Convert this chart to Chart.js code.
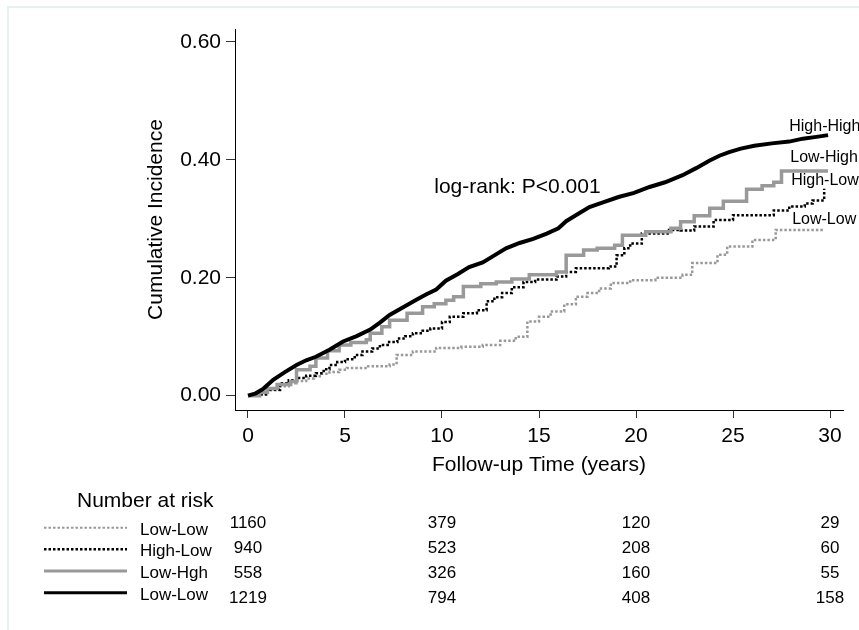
<!DOCTYPE html>
<html>
<head>
<meta charset="utf-8">
<title>Cumulative incidence by group</title>
<script src="https://cdn.jsdelivr.net/npm/chart.js@4.4.1/dist/chart.umd.min.js"></script>
<style>
    html, body { margin: 0; padding: 0; background: #fff; }
    #wrap { width: 859px; height: 630px; }
</style>
</head>
<body>
<div id="wrap"><canvas id="cif" width="859" height="630"></canvas></div>
<script>
// Step times (years) and cumulative incidence after each step, one pair per group
const highHighTime = [0, 0.4, 0.8, 1.3, 1.9, 2.5, 3.0, 3.5, 4.2, 4.9, 5.6, 6.3, 6.8, 7.3, 8.0, 8.7, 9.2, 9.7, 10.2, 10.8,
    11.4, 12.1, 12.7, 13.3, 14.0, 14.7, 15.4, 16.0, 16.4, 16.9, 17.6, 18.3, 19.1, 19.9, 20.7, 21.5, 22.4, 23.1, 23.8,
    24.3, 24.8, 25.4, 26.1, 27.0, 27.9, 28.6, 29.3, 29.9];
const highHighCum = [0, 0.004, 0.012, 0.027, 0.040, 0.052, 0.060, 0.066, 0.078, 0.092, 0.101, 0.112, 0.124, 0.137, 0.150,
    0.163, 0.172, 0.180, 0.195, 0.206, 0.218, 0.226, 0.238, 0.250, 0.259, 0.266, 0.275, 0.284, 0.296, 0.306, 0.320,
    0.328, 0.337, 0.344, 0.354, 0.362, 0.374, 0.386, 0.399, 0.407, 0.413, 0.419, 0.424, 0.428, 0.431, 0.436, 0.439, 0.442];

const lowHighTime = [0, 0.6, 1.0, 1.5, 2.2, 2.5, 3.2, 3.5, 4.1, 4.7, 5.3, 6.1, 6.3, 6.9, 7.3, 8.2, 9.0, 9.6, 10.2, 10.6,
    11.1, 12.0, 12.8, 13.6, 14.5, 15.9, 16.4, 17.3, 18.0, 18.9, 19.3, 20.5, 21.8, 22.3, 23.0, 23.8, 24.5, 25.7, 26.5,
    27.1, 27.5, 29.9];
const lowHighCum = [0, 0.006, 0.012, 0.019, 0.024, 0.044, 0.050, 0.064, 0.076, 0.086, 0.090, 0.095, 0.106, 0.117, 0.128,
    0.140, 0.151, 0.156, 0.162, 0.168, 0.185, 0.190, 0.193, 0.198, 0.205, 0.210, 0.238, 0.247, 0.250, 0.255, 0.272,
    0.278, 0.284, 0.295, 0.305, 0.318, 0.330, 0.350, 0.356, 0.362, 0.381, 0.381];

const highLowTime = [0, 0.45, 1.0, 1.65, 2.1, 2.5, 3.0, 3.5, 3.9, 4.2, 4.6, 5.0, 5.5, 5.9, 6.4, 6.8, 7.2, 7.7, 8.1, 8.5,
    9.0, 9.4, 10.0, 10.4, 11.1, 11.8, 12.3, 12.7, 13.1, 13.6, 14.2, 14.8, 15.9, 16.4, 16.9, 18.6, 19.0, 19.4, 19.7,
    20.3, 21.7, 22.3, 23.0, 24.0, 25.0, 27.1, 27.9, 28.7, 29.1, 29.7];
const highLowCum = [0, 0.002, 0.010, 0.021, 0.026, 0.030, 0.034, 0.038, 0.045, 0.052, 0.057, 0.062, 0.069, 0.075, 0.080,
    0.086, 0.091, 0.097, 0.101, 0.106, 0.110, 0.114, 0.125, 0.134, 0.140, 0.145, 0.160, 0.167, 0.174, 0.184, 0.193,
    0.197, 0.202, 0.210, 0.216, 0.219, 0.238, 0.250, 0.258, 0.275, 0.281, 0.280, 0.287, 0.298, 0.306, 0.314, 0.321,
    0.326, 0.331, 0.351];

const lowLowTime = [0, 0.5, 1.0, 1.65, 2.1, 2.5, 3.0, 3.4, 3.8, 4.2, 4.7, 5.1, 6.2, 7.3, 7.66, 8.5, 9.7, 11.0, 12.1, 13.0,
    13.8, 14.4, 15.0, 15.6, 16.3, 16.9, 17.5, 18.1, 18.7, 19.7, 21.0, 22.4, 22.9, 24.2, 24.7, 26.0, 27.2, 29.7];
const lowLowCum = [0, 0.003, 0.009, 0.016, 0.021, 0.025, 0.029, 0.033, 0.037, 0.040, 0.044, 0.047, 0.050, 0.053, 0.069,
    0.075, 0.081, 0.083, 0.086, 0.093, 0.100, 0.126, 0.134, 0.143, 0.155, 0.168, 0.174, 0.182, 0.191, 0.196, 0.200,
    0.205, 0.225, 0.239, 0.253, 0.264, 0.281, 0.281];

const xTicks = [0, 5, 10, 15, 20, 25, 30];
const yTicks = [0, 0.2, 0.4, 0.6];

// Number-at-risk table
const riskTimes = [0, 10, 20, 30];
const riskGroups = ['Low-Low', 'High-Low', 'Low-Hgh', 'Low-Low'];
const riskLowLow = [1160, 379, 120, 29];
const riskHighLow = [940, 523, 208, 60];
const riskLowHgh = [558, 326, 160, 55];
const riskLowLow2 = [1219, 794, 408, 158];

const curveNames = ['High-High', 'Low-High', 'High-Low', 'Low-Low'];

const FONT = '"Liberation Sans", Arial, Helvetica, sans-serif';
const GREY = '#999999';

const toPoints = (t, v) => t.map((x, i) => ({ x: x, y: v[i] }));

// line look for each group (shared by curves and the table key)
const styles = {
    highHigh: { color: '#000000', width: 4, dash: [] },
    lowHigh: { color: GREY, width: 3.5, dash: [] },
    highLow: { color: '#000000', width: 2.5, dash: [2.5, 2] },
    lowLow: { color: GREY, width: 2.5, dash: [2.5, 2] }
};

function curve(label, t, v, st, stepped) {
    return {
        label: label,
        data: toPoints(t, v),
        stepped: stepped,
        borderColor: st.color,
        borderWidth: st.width,
        borderDash: st.dash,
        borderCapStyle: 'butt',
        borderJoinStyle: 'miter',
        pointRadius: 0,
        tension: 0,
        fill: false
    };
}

const overlay = {
    id: 'overlay',
    beforeDraw(chart) {
        const ctx = chart.ctx;
        ctx.save();
        ctx.fillStyle = '#e7f1f1';
        ctx.fillRect(7, 6, 852, 2);
        ctx.fillRect(7, 6, 2, 624);
        ctx.restore();
    },
    afterDraw(chart) {
        const ctx = chart.ctx;
        const xs = chart.scales.x;
        const ys = chart.scales.y;
        ctx.save();
        ctx.fillStyle = '#000';
        ctx.textBaseline = 'middle';

        // test result
        ctx.font = '21px ' + FONT;
        ctx.textAlign = 'left';
        ctx.fillText('log-rank: P<0.001', xs.getPixelForValue(9.6), ys.getPixelForValue(0.354));

        // group names at the end of each curve
        const tagAt = [[27.9, 0.456], [27.95, 0.404], [28.0, 0.365], [28.05, 0.298]];
        ctx.font = '16px ' + FONT;
        curveNames.forEach((name, i) => {
            ctx.fillText(name, xs.getPixelForValue(tagAt[i][0]), ys.getPixelForValue(tagAt[i][1]));
        });

        // number at risk
        ctx.font = '21px ' + FONT;
        ctx.fillText('Number at risk', 77, 501);

        const rows = [riskLowLow, riskHighLow, riskLowHgh, riskLowLow2];
        const keys = [styles.lowLow, styles.highLow, styles.lowHigh, styles.highHigh];
        const keyY = [527.7, 549.3, 571, 592.7];
        const nameY = [530, 551, 573.5, 595.5];
        const numY = [523, 548, 573, 598];
        const keyW = [2, 2.5, 3, 3];

        rows.forEach((row, i) => {
            ctx.beginPath();
            ctx.strokeStyle = keys[i].color;
            ctx.lineWidth = keyW[i];
            ctx.setLineDash(keys[i].dash);
            ctx.lineCap = 'butt';
            ctx.moveTo(44, keyY[i]);
            ctx.lineTo(127, keyY[i]);
            ctx.stroke();
            ctx.setLineDash([]);

            ctx.font = '17px ' + FONT;
            ctx.textAlign = 'left';
            ctx.fillText(riskGroups[i], 140, nameY[i]);

            ctx.textAlign = 'center';
            row.forEach((n, j) => {
                ctx.fillText(String(n), xs.getPixelForValue(riskTimes[j]), numY[i]);
            });
        });
        ctx.restore();
    }
};

new Chart(document.getElementById('cif'), {
    type: 'line',
    data: {
        datasets: [
            curve('High-High', highHighTime, highHighCum, styles.highHigh, false),
            curve('Low-High', lowHighTime, lowHighCum, styles.lowHigh, true),
            curve('High-Low', highLowTime, highLowCum, styles.highLow, true),
            curve('Low-Low', lowLowTime, lowLowCum, styles.lowLow, true)
        ]
    },
    plugins: [overlay],
    options: {
        responsive: false,
        animation: false,
        devicePixelRatio: 1,
        layout: { padding: { left: 0, top: 29, right: 16, bottom: 150 } },
        plugins: {
            legend: { display: false },
            tooltip: { enabled: false }
        },
        scales: {
            x: {
                type: 'linear',
                min: -0.67,
                max: 30.67,
                afterBuildTicks: (s) => { s.ticks = xTicks.map(v => ({ value: v })); },
                afterFit: (s) => { s.height = 70; },
                border: { display: true, color: '#000', width: 1 },
                grid: { display: true, drawOnChartArea: false, drawTicks: true, tickLength: 8, color: '#333', lineWidth: 1 },
                ticks: {
                    color: '#000',
                    font: { family: FONT, size: 21 },
                    padding: 6,
                    maxRotation: 0,
                    autoSkip: false,
                    callback: (v) => String(v)
                },
                title: {
                    display: true,
                    text: 'Follow-up Time (years)',
                    color: '#000',
                    font: { family: FONT, size: 21 },
                    padding: { top: 0, bottom: 2 }
                }
            },
            y: {
                type: 'linear',
                min: -0.0243,
                max: 0.622,
                afterBuildTicks: (s) => { s.ticks = yTicks.map(v => ({ value: v })); },
                afterFit: (s) => { s.width = 235; },
                border: { display: true, color: '#000', width: 1 },
                grid: { display: true, drawOnChartArea: false, drawTicks: true, tickLength: 9, color: '#333', lineWidth: 1 },
                ticks: {
                    color: '#000',
                    font: { family: FONT, size: 21 },
                    padding: 5,
                    autoSkip: false,
                    callback: (v) => v.toFixed(2)
                },
                title: {
                    display: true,
                    text: 'Cumulative Incidence',
                    color: '#000',
                    font: { family: FONT, size: 21 },
                    padding: { top: 144, bottom: 0 }
                }
            }
        }
    }
});
</script>
</body>
</html>
